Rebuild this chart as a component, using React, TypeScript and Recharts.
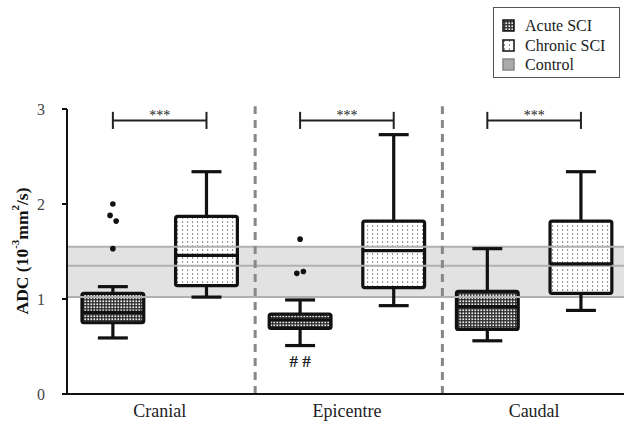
import React from 'react';
import {
  ComposedChart,
  XAxis,
  YAxis,
  ReferenceArea,
  ReferenceLine,
  ReferenceDot,
  Scatter,
} from 'recharts';

const categories = ['Cranial', 'Epicentre', 'Caudal'];
const seriesNames = ['Acute SCI', 'Chronic SCI', 'Control'];
const yTicks = [0, 1, 2, 3];

const acuteMin = [0.59, 0.51, 0.56];
const acuteQ1 = [0.75, 0.69, 0.68];
const acuteMedian = [0.86, 0.78, 0.92];
const acuteQ3 = [1.06, 0.84, 1.08];
const acuteMax = [1.13, 0.99, 1.53];

const chronicMin = [1.02, 0.93, 0.88];
const chronicQ1 = [1.14, 1.12, 1.06];
const chronicMedian = [1.46, 1.51, 1.37];
const chronicQ3 = [1.87, 1.82, 1.82];
const chronicMax = [2.34, 2.73, 2.34];

const acuteOutliers = [[2.0, 1.88, 1.82, 1.53], [1.63, 1.27, 1.29], []];
const acuteOutlierJitter = [[0, -0.03, 0.035, 0], [0, -0.035, 0.035], []];

const controlLow = 1.02;
const controlMean = 1.35;
const controlHigh = 1.55;

const sigLabels = ['***', '***', '***'];
const sigLevel = 2.88;
const sigCapLow = 2.79;
const sigCapHigh = 2.97;
const sigTextLevel = 2.935;
const hashLabels = ['', '# #', ''];
const hashLevel = 0.35;
const separators = [2.52, 4.52];
const yTop = 3.03;

const FONT = '"Liberation Serif", "Times New Roman", serif';
const BOX_HALF = 0.33;
const CAP_HALF = 0.16;

const acutePos = (i: number) => 2 * i + 1;
const chronicPos = (i: number) => 2 * i + 2;

const outlierData = acuteOutliers.flatMap((vals, i) =>
  vals.map((v, j) => ({ x: acutePos(i) + acuteOutlierJitter[i][j], y: v }))
);

function boxElements(
  key: string,
  pos: number,
  min: number,
  q1: number,
  med: number,
  q3: number,
  max: number,
  fill: string
) {
  const s = { stroke: '#111', strokeWidth: 3.2 };
  return [
    <ReferenceLine key={key + 'wl'} segment={[{ x: pos, y: min }, { x: pos, y: q1 }]} {...s} />,
    <ReferenceLine key={key + 'wh'} segment={[{ x: pos, y: q3 }, { x: pos, y: max }]} {...s} />,
    <ReferenceLine key={key + 'cl'} segment={[{ x: pos - CAP_HALF, y: min }, { x: pos + CAP_HALF, y: min }]} {...s} />,
    <ReferenceLine key={key + 'ch'} segment={[{ x: pos - CAP_HALF, y: max }, { x: pos + CAP_HALF, y: max }]} {...s} />,
    <ReferenceArea
      key={key + 'box'}
      x1={pos - BOX_HALF}
      x2={pos + BOX_HALF}
      y1={q1}
      y2={q3}
      fill={fill}
      fillOpacity={1}
      stroke="#111"
      strokeWidth={3.2}
      radius={2}
    />,
    <ReferenceLine key={key + 'md'} segment={[{ x: pos - BOX_HALF, y: med }, { x: pos + BOX_HALF, y: med }]} {...s} />,
  ];
}

const YLabel = (props: any) => {
  const cx = 22;
  const cy = 251;
  return (
    <text
      x={cx}
      y={cy}
      transform={`rotate(-90 ${cx} ${cy})`}
      textAnchor="middle"
      dominantBaseline="central"
      fontFamily={FONT}
      fontWeight="bold"
      fontSize={17.5}
      fill="#111"
    >
      <tspan>ADC (10</tspan>
      <tspan fontSize={11} dy={-7}>-3</tspan>
      <tspan dy={7}>mm</tspan>
      <tspan fontSize={11} dy={-7}>2</tspan>
      <tspan dy={7}>/s)</tspan>
    </text>
  );
};

const LegendBox = () => {
  const swatches = ['url(#acutePat)', 'url(#chronicPat)', '#aaaaaa'];
  const borders = ['#111', '#111', '#888'];
  return (
    <div
      style={{
        position: 'absolute',
        left: 493,
        top: 7,
        border: '1px solid #555',
        width: 127,
        height: 71,
        boxSizing: 'border-box',
        padding: '8px 0 0 8px',
        fontFamily: FONT,
        fontSize: 16,
        color: '#222',
        background: '#fff',
      }}
    >
      {seriesNames.map((n, i) => (
        <div key={n} style={{ display: 'flex', alignItems: 'center', height: 19.5 }}>
          <svg width={13} height={13} style={{ marginRight: 10 }}>
            <rect x={1} y={1} width={11} height={11} fill={swatches[i]} stroke={borders[i]} strokeWidth={1.5} />
          </svg>
          <span style={{ lineHeight: '19px' }}>{n}</span>
        </div>
      ))}
    </div>
  );
};

const Dot = (props: any) => {
  const { cx, cy } = props;
  return <circle cx={cx} cy={cy} r={2.8} fill="#111" />;
};

export default function App() {
  const elements: any[] = [];
  categories.forEach((c, i) => {
    elements.push(
      ...boxElements('a' + i, acutePos(i), acuteMin[i], acuteQ1[i], acuteMedian[i], acuteQ3[i], acuteMax[i], 'url(#acutePat)')
    );
    elements.push(
      ...boxElements('c' + i, chronicPos(i), chronicMin[i], chronicQ1[i], chronicMedian[i], chronicQ3[i], chronicMax[i], 'url(#chronicPat)')
    );
  });

  return (
    <div style={{ position: 'absolute', left: 0, top: 0, width: 624, height: 423, background: '#fff' }}>
      <svg width={0} height={0} style={{ position: 'absolute' }}>
        <defs>
          <pattern id="acutePat" width={3} height={3} patternUnits="userSpaceOnUse">
            <rect x={0} y={0} width={3} height={3} fill="#2e2e2e" />
            <rect x={0.4} y={0.4} width={1.7} height={1.7} fill="#ececec" />
          </pattern>
          <pattern id="chronicPat" width={5} height={4} patternUnits="userSpaceOnUse">
            <rect x={0} y={0} width={5} height={4} fill="#ffffff" />
            <rect x={2} y={1.5} width={1.1} height={1.1} fill="#444" />
          </pattern>
        </defs>
      </svg>
      <ComposedChart
        width={624}
        height={423}
        margin={{ top: 109, right: 0, bottom: 0, left: 0 }}
        data={outlierData}
      >
        <XAxis
          type="number"
          dataKey="x"
          domain={[0.51, 6.46]}
          allowDataOverflow
          ticks={[1.5, 3.5, 5.5]}
          tickFormatter={(v: number) => categories[Math.round((v - 1.5) / 2)]}
          tickLine={false}
          axisLine={{ stroke: '#111', strokeWidth: 2 }}
          tick={{ fill: '#222', fontSize: 18, fontFamily: FONT }}
          tickMargin={4}
          height={29}
        />
        <YAxis
          type="number"
          domain={[0, 3]}
          ticks={yTicks}
          tickSize={5}
          tickMargin={17}
          width={67}
          axisLine={{ stroke: '#111', strokeWidth: 2 }}
          tickLine={{ stroke: '#111', strokeWidth: 2 }}
          tick={{ fill: '#444', fontSize: 16, fontFamily: FONT }}
          label={{ content: <YLabel /> }}
        />
        <ReferenceArea y1={controlLow} y2={controlHigh} fill="#e2e2e2" fillOpacity={1} stroke="none" />
        <ReferenceLine y={controlLow} stroke="#b0b0b0" strokeWidth={2} />
        <ReferenceLine y={controlHigh} stroke="#b0b0b0" strokeWidth={2} />
        <ReferenceLine y={controlMean} stroke="#b0b0b0" strokeWidth={2} />
        {separators.map((s) => (
          <ReferenceLine
            key={'sep' + s}
            segment={[{ x: s, y: 0 }, { x: s, y: yTop }]}
            stroke="#888"
            strokeWidth={3}
            strokeDasharray="8 6"
            ifOverflow="visible"
          />
        ))}
        {elements}
        {categories.map((c, i) => [
          <ReferenceLine
            key={'sh' + i}
            segment={[{ x: acutePos(i), y: sigLevel }, { x: chronicPos(i), y: sigLevel }]}
            stroke="#222"
            strokeWidth={2}
            ifOverflow="visible"
          />,
          <ReferenceLine
            key={'sl' + i}
            segment={[{ x: acutePos(i), y: sigCapLow }, { x: acutePos(i), y: sigCapHigh }]}
            stroke="#222"
            strokeWidth={2}
            ifOverflow="visible"
          />,
          <ReferenceLine
            key={'sr' + i}
            segment={[{ x: chronicPos(i), y: sigCapLow }, { x: chronicPos(i), y: sigCapHigh }]}
            stroke="#222"
            strokeWidth={2}
            ifOverflow="visible"
          />,
          <ReferenceDot
            key={'st' + i}
            x={(acutePos(i) + chronicPos(i)) / 2}
            y={sigTextLevel}
            r={0}
            fill="none"
            stroke="none"
            ifOverflow="visible"
            label={{ value: sigLabels[i], position: 'center', fill: '#222', fontSize: 14, fontFamily: FONT }}
          />,
          hashLabels[i] ? (
            <ReferenceDot
              key={'hs' + i}
              x={acutePos(i)}
              y={hashLevel}
              r={0}
              fill="none"
              stroke="none"
              label={{ value: hashLabels[i], position: 'center', fill: '#222', fontSize: 17, fontWeight: 'bold', fontFamily: FONT }}
            />
          ) : null,
        ])}
        <Scatter dataKey="y" data={outlierData} shape={<Dot />} isAnimationActive={false} />
      </ComposedChart>
      <LegendBox />
    </div>
  );
}
